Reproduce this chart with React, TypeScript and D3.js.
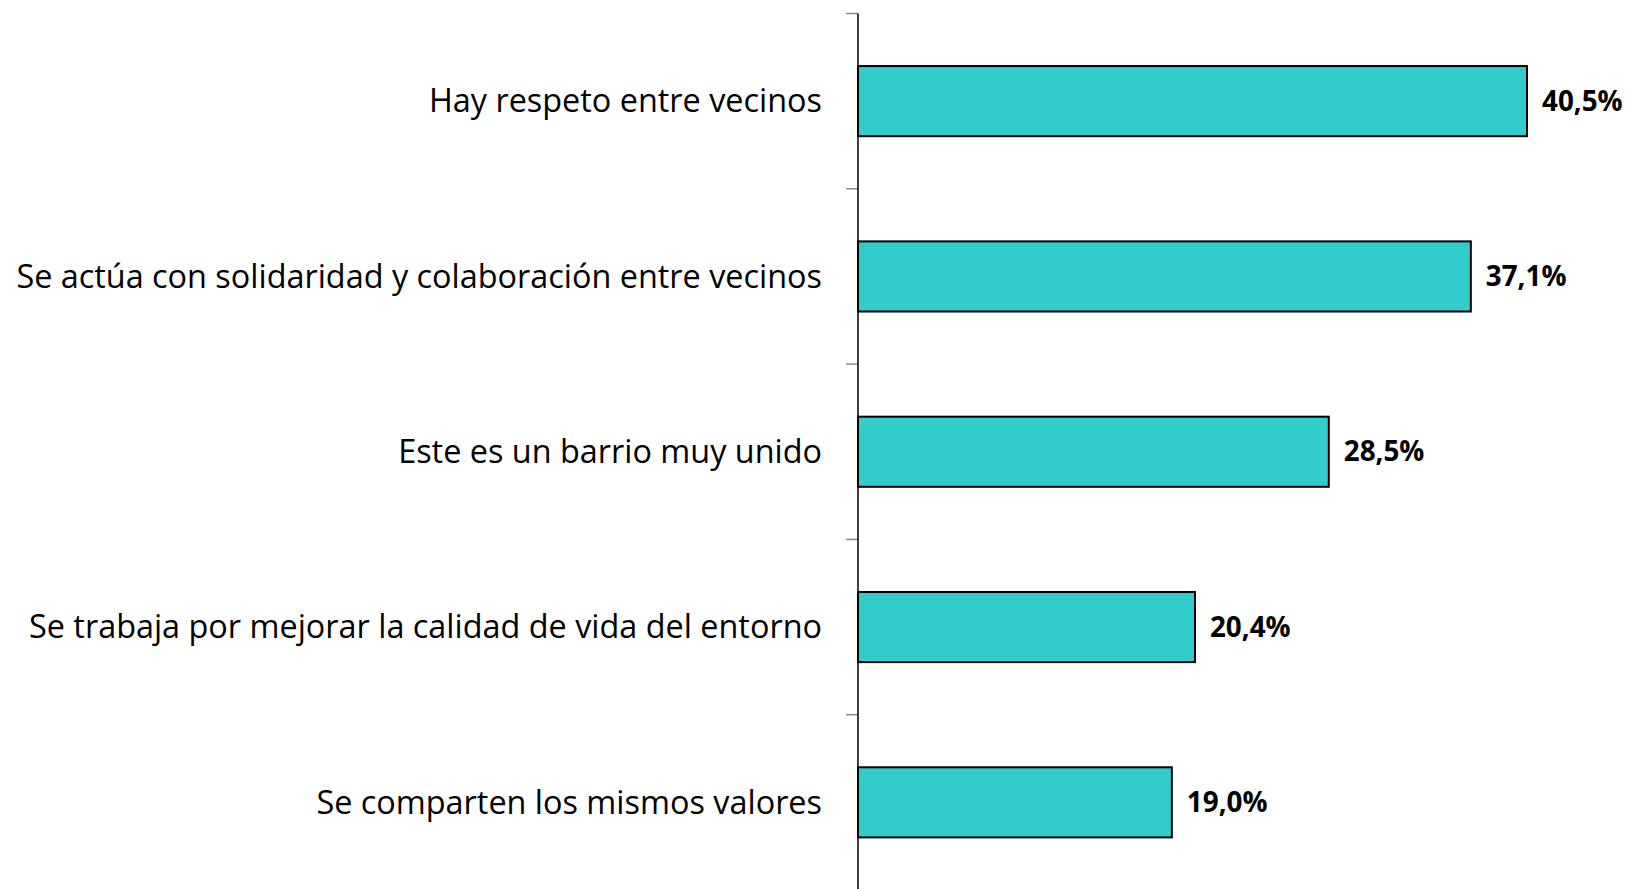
import React, { useEffect, useRef } from "react";
import * as d3 from "d3";

const categories = [
  "Hay respeto entre vecinos",
  "Se actúa con solidaridad y colaboración entre vecinos",
  "Este es un barrio muy unido",
  "Se trabaja por mejorar la calidad de vida del entorno",
  "Se comparten los mismos valores",
];
const values = [40.5, 37.1, 28.5, 20.4, 19.0];
const valueLabels = ["40,5%", "37,1%", "28,5%", "20,4%", "19,0%"];

const W = 1626;
const H = 889;
const FONT = "'Open Sans', Lato, sans-serif";

export default function App() {
  const ref = useRef<SVGSVGElement>(null);

  useEffect(() => {
    const svg = d3.select(ref.current);
    svg.selectAll("*").remove();

    const axisX = 858;
    const data = categories.map((c, i) => ({ c, v: values[i], label: valueLabels[i] }));

    // value scale: 40.5% ends around x=1527
    const x = d3.scaleLinear().domain([0, 40.5]).range([axisX, 1527]);

    const y = d3.scaleBand()
      .domain(categories)
      .range([13.5, 890])
      .paddingInner(0.6)
      .paddingOuter(0.3);

    const step = y.step();

    // tick marks at category boundaries
    const bounds = categories.map(c => (y(c) as number) - step * 0.3);
    bounds.push(bounds[bounds.length - 1] + step);
    svg.selectAll("line.tick")
      .data(bounds)
      .enter()
      .append("line")
      .attr("x1", axisX - 12)
      .attr("x2", axisX)
      .attr("y1", d => d)
      .attr("y2", d => d)
      .attr("stroke", "#888")
      .attr("stroke-width", 1.5);

    // bars
    svg.selectAll("rect.bar")
      .data(data)
      .enter()
      .append("rect")
      .attr("x", axisX)
      .attr("y", d => y(d.c) as number)
      .attr("width", d => x(d.v) - axisX)
      .attr("height", y.bandwidth())
      .attr("fill", "#33CCCC")
      .attr("stroke", "#000")
      .attr("stroke-width", 2);

    // axis line
    svg.append("line")
      .attr("x1", axisX)
      .attr("x2", axisX)
      .attr("y1", 13.5)
      .attr("y2", H)
      .attr("stroke", "#000")
      .attr("stroke-width", 1.5);

    // category labels
    svg.selectAll("text.cat")
      .data(data)
      .enter()
      .append("text")
      .attr("x", 822)
      .attr("y", d => (y(d.c) as number) + y.bandwidth() / 2)
      .attr("dy", "0.35em")
      .attr("text-anchor", "end")
      .style("font-family", FONT)
      .style("font-size", "32.4px")
      .attr("fill", "#000")
      .text(d => d.c);

    // value labels
    svg.selectAll("text.val")
      .data(data)
      .enter()
      .append("text")
      .attr("x", d => x(d.v) + 15)
      .attr("y", d => (y(d.c) as number) + y.bandwidth() / 2)
      .attr("dy", "0.35em")
      .style("font-family", FONT)
      .style("font-size", "27.8px")
      .style("font-weight", "bold")
      .attr("fill", "#000")
      .text(d => d.label);
  }, []);

  return (
    <svg
      ref={ref}
      width={W}
      height={H}
      style={{ position: "fixed", left: 0, top: 0, background: "#fff" }}
    />
  );
}
